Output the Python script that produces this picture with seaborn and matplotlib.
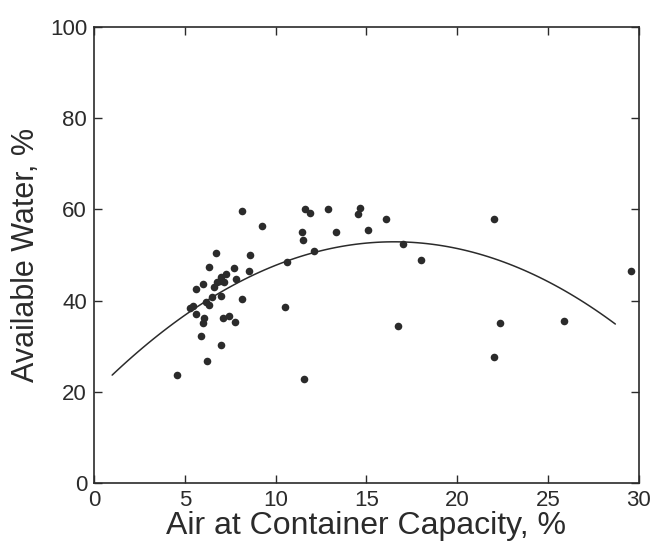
import numpy as np
import pandas as pd
import seaborn as sns
import matplotlib.pyplot as plt

air = [4.57, 5.29, 5.45, 5.59, 5.59, 6.02, 5.91, 6.02, 6.07, 6.18, 6.32, 6.21,
       6.32, 6.51, 6.71, 6.62, 6.78, 6.94, 7.01, 7.13, 7.24, 6.97, 7.01, 7.08,
       7.43, 7.70, 7.82, 7.77, 8.16, 8.16, 8.57, 8.55, 9.26, 10.53, 10.60, 11.45,
       11.49, 11.61, 11.91, 11.56, 12.11, 12.87, 13.33, 14.53, 14.64, 15.10, 16.09,
       16.74, 17.03, 18.0, 22.0, 22.0, 22.37, 25.89, 29.54]
water = [23.6, 38.3, 38.9, 37.1, 42.6, 43.6, 32.2, 35.2, 36.2, 39.8, 39.0, 26.8,
         47.4, 40.9, 50.4, 43.0, 44.0, 44.3, 45.1, 44.0, 45.9, 41.1, 30.3, 36.2,
         36.7, 47.1, 44.7, 35.4, 40.3, 59.7, 49.9, 46.4, 56.3, 38.6, 48.5, 55.1,
         53.4, 60.1, 59.3, 22.9, 50.8, 60.1, 55.1, 59.0, 60.3, 55.5, 58.0,
         34.4, 52.5, 48.9, 57.9, 27.6, 35.0, 35.6, 46.4]

# fitted curve as drawn in the figure (read at a few x positions)
curve_x = [1.0, 3, 5, 7, 9, 11, 13, 15, 17, 19, 21, 23, 25, 27, 28.7]
curve_y = [23.7, 30.7, 36.8, 41.9, 46.0, 49.2, 51.4, 52.6, 52.9, 52.2, 50.5,
           47.8, 44.1, 39.5, 34.9]

points = pd.DataFrame({"air": air, "water": water})
curve = pd.DataFrame({"x": curve_x, "y": curve_y})

sns.set_theme(style="ticks")
plt.rcParams['font.family'] = ['Liberation Sans', 'DejaVu Sans']
ink = "#2b2b2b"

fig = plt.figure(figsize=(6.55, 5.46), dpi=100)
ax = fig.add_axes([0.1435, 0.1154, 0.832, 0.835])

sns.regplot(data=curve, x="x", y="y", order=2, scatter=False, ci=None,
            truncate=True, color=ink, line_kws={"linewidth": 1.1}, ax=ax)
sns.scatterplot(data=points, x="air", y="water", color=ink, s=30,
                edgecolor=ink, linewidth=0, ax=ax)

ax.set_xlim(0, 30)
ax.set_ylim(0, 100)
ax.set_xticks([0, 5, 10, 15, 20, 25, 30])
ax.set_yticks([0, 20, 40, 60, 80, 100])
ax.tick_params(direction="in", top=True, right=True, length=6, width=1,
               color=ink, labelsize=16, labelcolor=ink, pad=5)
for s in ax.spines.values():
    s.set_color(ink)
    s.set_linewidth(1.2)
ax.set_xlabel("Air at Container Capacity, %", fontsize=23, color=ink, labelpad=0)
ax.set_ylabel("Available Water, %", fontsize=22, color=ink, labelpad=6)

fig.savefig("out.png", dpi=100, facecolor="white")
